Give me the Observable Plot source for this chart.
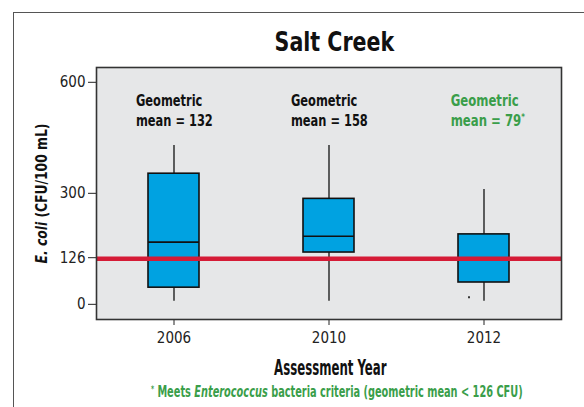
<!DOCTYPE html>
<html>
<head>
<meta charset="utf-8">
<script src="https://cdn.jsdelivr.net/npm/d3@7"></script>
<script src="https://cdn.jsdelivr.net/npm/@observablehq/plot@0.6"></script>
<style>
  html, body { margin: 0; padding: 0; background: #fff; }
  #wrap { position: relative; width: 584px; height: 407px; overflow: hidden; }
  #outer { position: absolute; left: 13px; top: 12px; width: 640px; height: 460px;
           border: 1.5px solid #555; box-sizing: border-box; pointer-events: none; }
  svg { display: block; }
</style>
</head>
<body>
<div id="wrap"><div id="outer"></div></div>
<script>
// ---- data ----
const years = ["2006", "2010", "2012"];
const whiskerLow = [8, 8, 8];
const q1 = [45, 140, 59];
const median = [168, 184, 126];
const q3 = [353, 285, 189];
const whiskerHigh = [429, 429, 310];
const geoMeans = [132, 158, 79];
const meetsCriteria = [false, false, true];
const outlierYears = ["2012"];
const outlierValues = [19];
const criterion = 126;
const yTicks = [0, 126, 300, 600];

const boxes = years.map((y, i) => ({
  year: y, low: whiskerLow[i], q1: q1[i], med: median[i], q3: q3[i], high: whiskerHigh[i],
  gm: geoMeans[i], meets: meetsCriteria[i]
}));
const outliers = outlierYears.map((y, i) => ({year: y, value: outlierValues[i]}));

const FONT = "'DejaVu Sans Condensed', 'DejaVu Sans', sans-serif";
const GREEN = "#3a9e4a";

const chart = Plot.plot({
  width: 584,
  height: 407,
  marginLeft: 96,
  marginRight: 23,
  marginTop: 67,
  marginBottom: 88,
  style: {fontFamily: FONT, background: "transparent", color: "#222"},
  x: {type: "band", domain: years, paddingInner: 0.67, paddingOuter: 0.335},
  y: {domain: [-41, 640]},
  marks: [
    Plot.frame({fill: "#e6e7e8"}),
    Plot.axisY({ticks: yTicks, tickSize: 8, tickPadding: 3, fontSize: 15, label: null, stroke: "#222", fill: "#222"}),
    Plot.axisX({tickSize: 6, tickPadding: 7, fontSize: 15, label: null, stroke: "#222", fill: "#222"}),
    // whiskers
    Plot.ruleX(boxes, {x: "year", y1: "low", y2: "q1", stroke: "#111", strokeWidth: 1.3}),
    Plot.ruleX(boxes, {x: "year", y1: "q3", y2: "high", stroke: "#111", strokeWidth: 1.3}),
    // boxes
    Plot.barY(boxes, {x: "year", y1: "q1", y2: "q3", fill: "#00a2e1", stroke: "#111", strokeWidth: 1.6}),
    Plot.tickY(boxes.filter(d => !d.meets), {x: "year", y: "med", stroke: "#111", strokeWidth: 1.6}),
    // outlier
    Plot.dot(outliers, {x: "year", y: "value", symbol: "square", r: 1.1, fill: "#333", stroke: null, dx: -15}),
    // criterion line
    Plot.ruleY([criterion], {stroke: "#d51b36", strokeWidth: 4.5, dy: 1}),
    // geometric mean annotations
    Plot.text(boxes.filter(d => !d.meets), {
      x: "year", frameAnchor: "top", dy: 24, dx: -36.5, lineAnchor: "top", textAnchor: "start",
      text: d => `Geometric\nmean = ${d.gm}`, fontSize: 15, fontWeight: "bold", lineHeight: 1.333, fill: "#111"
    }),
    Plot.text(boxes.filter(d => d.meets), {
      x: "year", frameAnchor: "top", dy: 24, dx: -32.5, lineAnchor: "top", textAnchor: "start",
      text: d => `Geometric\nmean = ${d.gm}*`, fontSize: 15, fontWeight: "bold", lineHeight: 1.333, fill: GREEN
    }),
    // title
    Plot.text(["Salt Creek"], {frameAnchor: "top", dx: 4.7, dy: -16.3, lineAnchor: "bottom",
      fontSize: 26, fontWeight: "bold", fill: "#111"}),
    // y label
    Plot.text(["E. coli (CFU/100 mL)"], {frameAnchor: "left", dx: -50, rotate: -90, textAnchor: "middle",
      lineAnchor: "bottom", fontSize: 16, fontWeight: "bold", fill: "#111"}),
    // x label
    Plot.text(["Assessment Year"], {frameAnchor: "bottom", dx: 0.7, dy: 55, lineAnchor: "bottom",
      fontSize: 21, fontWeight: "bold", fill: "#111"}),
    // footnote
    Plot.text(["* Meets Enterococcus bacteria criteria (geometric mean < 126 CFU)"], {
      frameAnchor: "bottom", dx: 6, dy: 77.4, lineAnchor: "bottom",
      fontSize: 15, fontWeight: "bold", fill: GREEN}),
    Plot.frame({stroke: "#333", strokeWidth: 1.6})
  ]
});

document.getElementById("wrap").prepend(chart);

const NS = "http://www.w3.org/2000/svg";
// squeeze a text horizontally (or vertically for rotated text) to mimic a condensed face
function squeeze(el, target, axis, anchor) {
  const r = el.getBoundingClientRect(), s = chart.getBoundingClientRect();
  const g = document.createElementNS(NS, "g");
  el.parentNode.insertBefore(g, el);
  g.appendChild(el);
  if (axis === "y") {
    const f = target / r.height;
    const ay = r.top - s.top + r.height / 2;
    g.setAttribute("transform", `translate(0,${ay}) scale(1,${f}) translate(0,${-ay})`);
  } else {
    const f = target / r.width;
    const ax = anchor === "start" ? r.left - s.left : r.left - s.left + r.width / 2;
    g.setAttribute("transform", `translate(${ax},0) scale(${f},1) translate(${-ax},0)`);
  }
}

const svg = d3.select(chart);
const jobs = [];
svg.selectAll("text").each(function () {
  const el = d3.select(this);
  const t = this.textContent;
  if (t === "E. coli (CFU/100 mL)") {
    el.text(null);
    el.append("tspan").attr("font-style", "italic").text("E. coli");
    el.append("tspan").text(" (CFU/100 mL)");
    jobs.push([this, 140, "y", "middle"]);
  } else if (t.startsWith("* Meets")) {
    el.text(null);
    el.append("tspan").attr("font-size", 9).attr("baseline-shift", "super").text("*");
    el.append("tspan").text(" Meets ");
    el.append("tspan").attr("font-style", "italic").text("Enterococcus");
    el.append("tspan").text(" bacteria criteria (geometric mean < 126 CFU)");
    jobs.push([this, 372, "x", "middle"]);
  } else if (t === "Salt Creek") {
    jobs.push([this, 121, "x", "middle"]);
  } else if (t === "Assessment Year") {
    jobs.push([this, 113, "x", "middle"]);
  } else if (t.startsWith("Geometric")) {
    const star = t.endsWith("*");
    if (star) {
      el.selectAll("tspan").each(function () {
        if (this.textContent.endsWith("*")) {
          this.textContent = this.textContent.slice(0, -1);
        }
      });
      el.append("tspan").attr("font-size", 9).attr("baseline-shift", "super").text("*");
    }
    jobs.push([this, star ? 75 : 77, "x", "start"]);
  }
});
jobs.forEach(j => squeeze(...j));
</script>
</body>
</html>
